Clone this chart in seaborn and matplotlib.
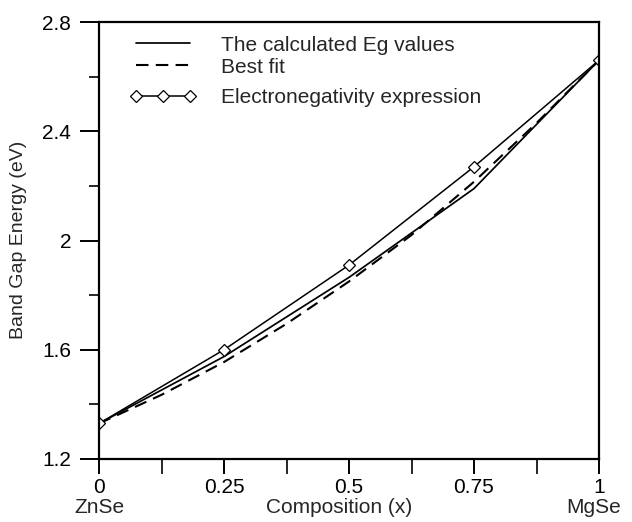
import matplotlib
matplotlib.use("Agg")
import matplotlib.pyplot as plt
from matplotlib.ticker import MultipleLocator
from matplotlib.lines import Line2D
from matplotlib.legend_handler import HandlerLine2D
import pandas as pd
import seaborn as sns

# Composition points of the Zn(1-x)Mg(x)Se alloy
x_calc = [0.0, 0.25, 0.5, 0.75, 1.0]
eg_calc = [1.33, 1.575, 1.865, 2.19, 2.66]

x_fit = [0.0, 0.125, 0.25, 0.375, 0.5, 0.625, 0.75, 0.875, 1.0]
eg_fit = [1.33, 1.435, 1.555, 1.695, 1.85, 2.02, 2.215, 2.43, 2.66]

x_en = [0.0, 0.25, 0.5, 0.75, 1.0]
eg_en = [1.33, 1.60, 1.91, 2.27, 2.66]

x_ticks = [0, 0.25, 0.5, 0.75, 1]
x_tick_labels = ["0", "0.25", "0.5", "0.75", "1"]
y_ticks = [1.2, 1.6, 2.0, 2.4, 2.8]
y_tick_labels = ["1.2", "1.6", "2", "2.4", "2.8"]

sns.set_style("white")
plt.rcParams["font.family"] = ["Liberation Sans", "DejaVu Sans"]

FS = 15

df_calc = pd.DataFrame({"x": x_calc, "Eg": eg_calc})
df_fit = pd.DataFrame({"x": x_fit, "Eg": eg_fit})
df_en = pd.DataFrame({"x": x_en, "Eg": eg_en})

W, H = 632, 522
fig = plt.figure(figsize=(W / 100, H / 100), dpi=100)
ax = fig.add_axes([99 / W, 1 - 459 / H, 500 / W, 437 / H])

sns.lineplot(data=df_calc, x="x", y="Eg", ax=ax, color="black", lw=1.25,
             label="The calculated Eg values")
sns.lineplot(data=df_fit, x="x", y="Eg", ax=ax, color="black", lw=1.5,
             linestyle=(0, (6, 3.5)), label="Best fit")
sns.lineplot(data=df_en, x="x", y="Eg", ax=ax, color="black", lw=1.1,
             marker="D", markersize=6.5, markerfacecolor="white",
             markeredgecolor="black", markeredgewidth=0.9,
             label="Electronegativity expression")

ax.set_xlim(0, 1)
ax.set_ylim(1.2, 2.8)
ax.set_xticks(x_ticks)
ax.set_xticklabels(x_tick_labels)
ax.set_yticks(y_ticks)
ax.set_yticklabels(y_tick_labels)
ax.xaxis.set_minor_locator(MultipleLocator(0.125))
ax.yaxis.set_minor_locator(MultipleLocator(0.2))
ax.tick_params(axis="both", which="major", direction="out", width=1.4,
               labelsize=FS, colors="black",
               bottom=True, left=True, top=False, right=False)
ax.tick_params(axis="x", which="major", length=11, pad=3)
ax.tick_params(axis="y", which="major", length=14, pad=6)
ax.tick_params(axis="x", which="minor", direction="out", length=11, width=1.4,
               bottom=True, top=False)
ax.tick_params(axis="y", which="minor", direction="out", length=7, width=1.4,
               left=True, right=False)

for s in ax.spines.values():
    s.set_linewidth(1.6)
    s.set_color("black")

ax.set_xlabel("")
ax.set_ylabel("")
fig.text(19 / W, 1 - 240 / H, "Band Gap Energy (eV)", rotation=90,
         ha="center", va="center", fontsize=FS - 1)

row_y = -0.11
ax.text(0, row_y, "ZnSe", transform=ax.transAxes, ha="center", va="center", fontsize=FS)
ax.text(0.99, row_y, "MgSe", transform=ax.transAxes, ha="center", va="center", fontsize=FS)
ax.text(0.48, row_y, "Composition (x)", transform=ax.transAxes, ha="center", va="center", fontsize=FS)

# Legend: two line entries on top, the marker entry set a little lower
handles, labels = ax.get_legend_handles_labels()
hmap = {Line2D: HandlerLine2D(marker_pad=0.85, numpoints=3)}
common = dict(loc="upper left", frameon=False, fontsize=FS, handlelength=4.3,
              handletextpad=0.65, borderaxespad=0.0, handler_map=hmap)
leg1 = ax.legend(handles[:2], labels[:2], bbox_to_anchor=(0.022, 0.988),
                 labelspacing=0.15, **common)
ax.add_artist(leg1)
ax.legend(handles[2:], labels[2:], bbox_to_anchor=(0.022, 0.867), **common)

fig.savefig("out.png", dpi=100)
